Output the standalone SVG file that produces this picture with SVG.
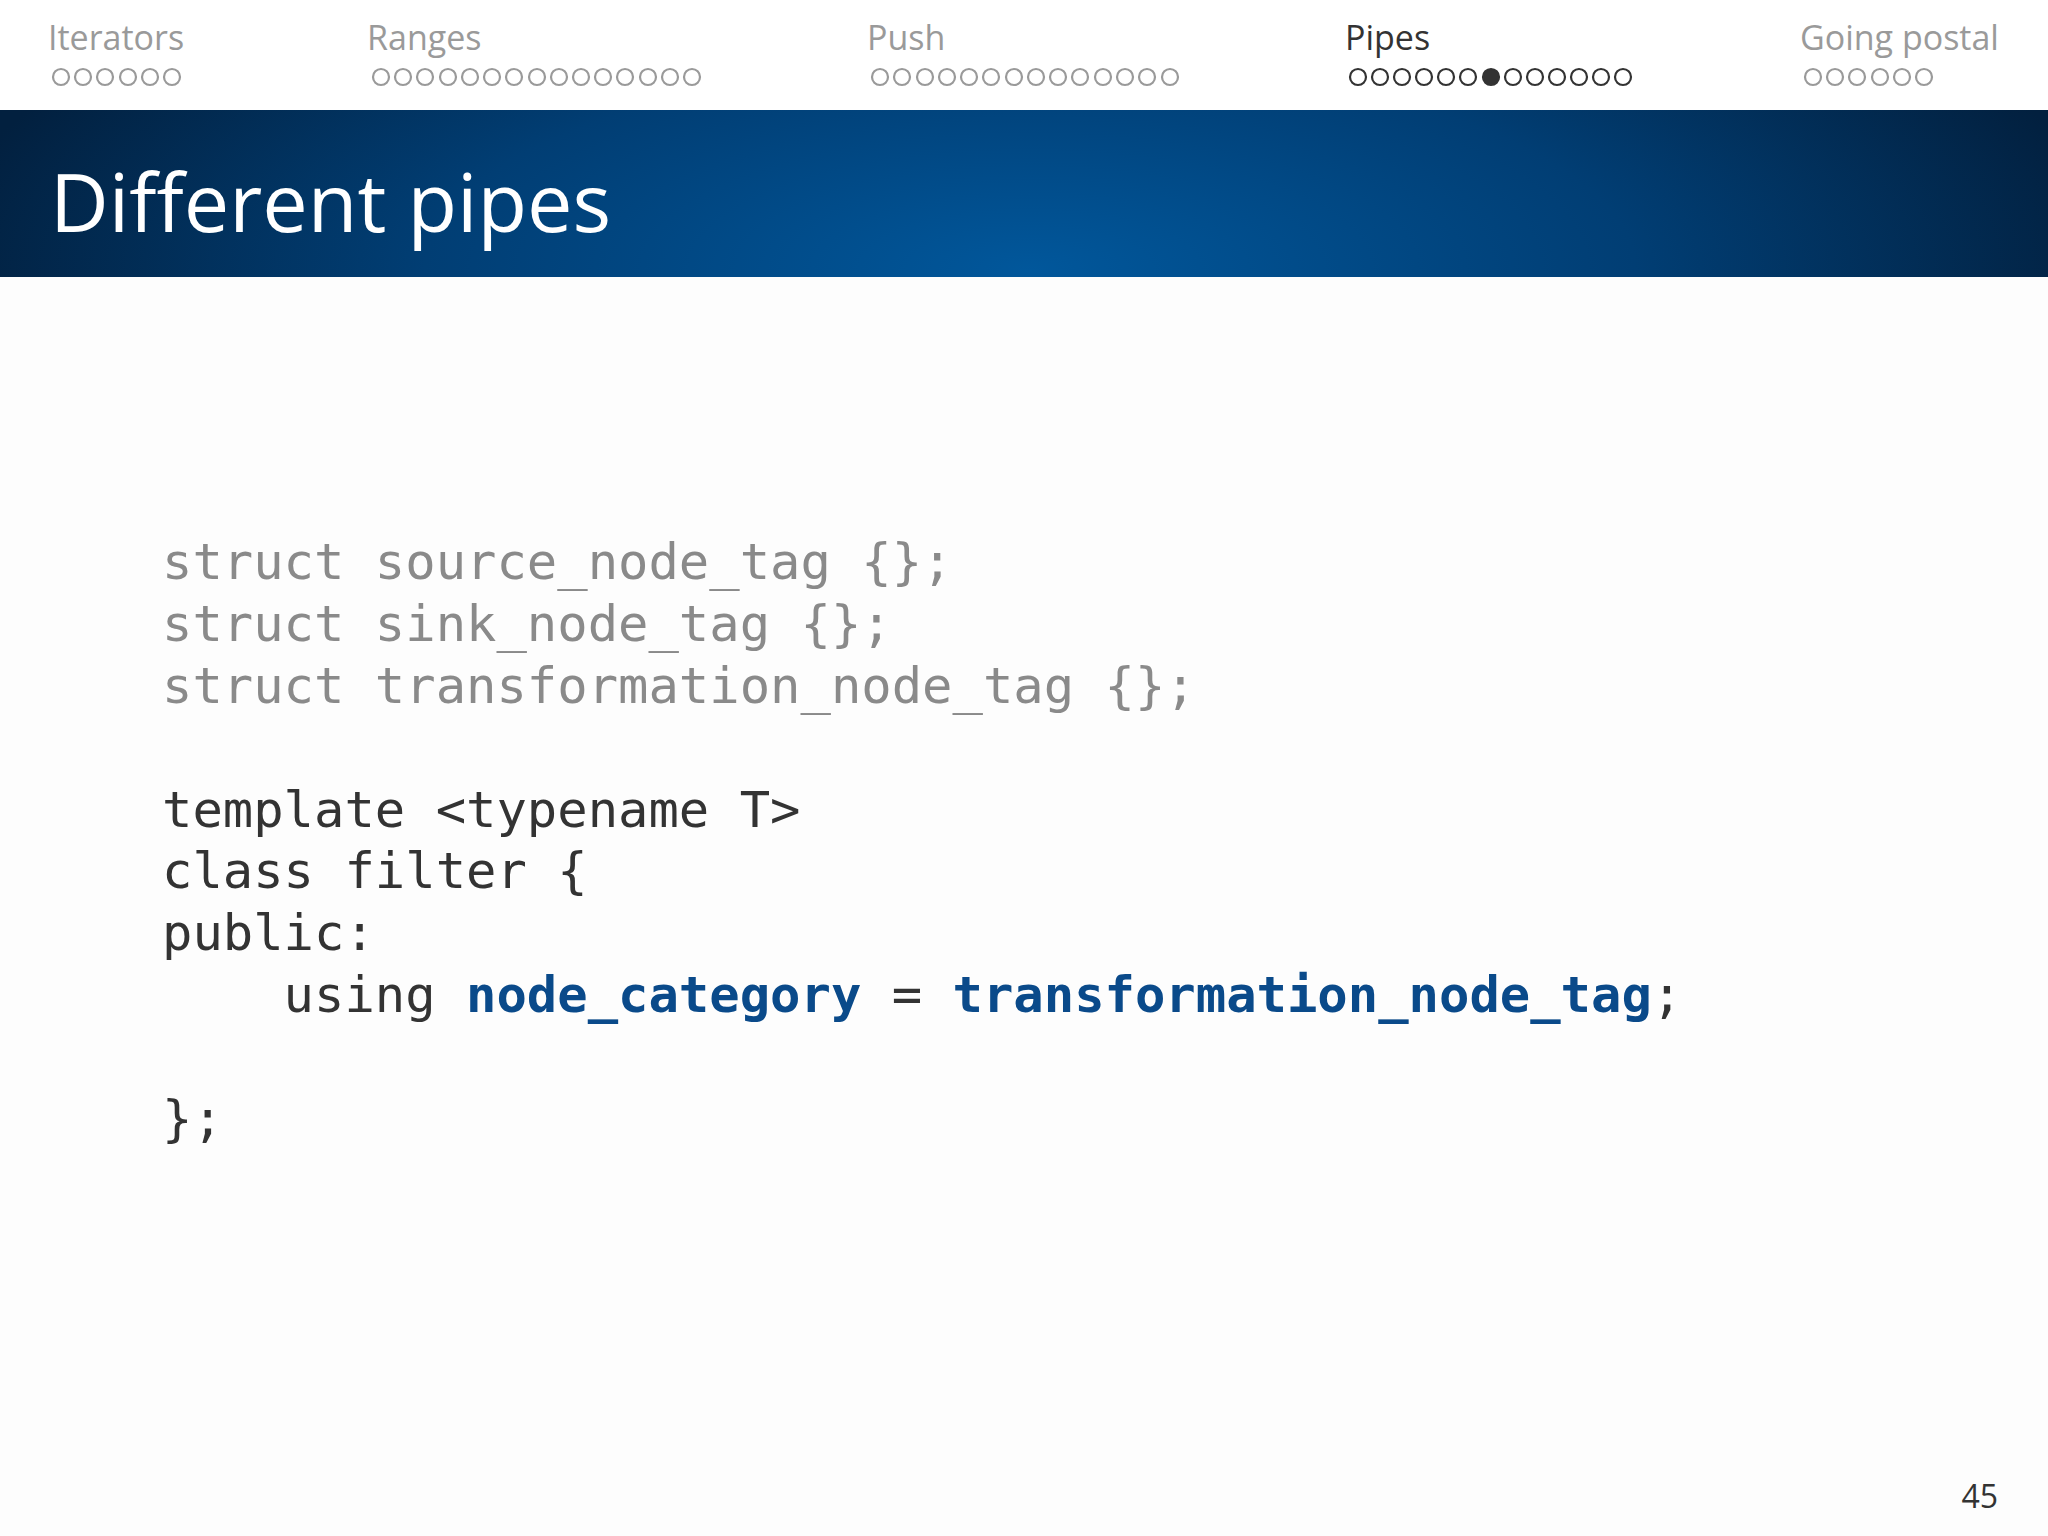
<svg xmlns="http://www.w3.org/2000/svg" width="2048" height="1536" viewBox="0 0 2048 1536">
<defs>
<radialGradient id="bg" cx="1030" cy="270" r="1100" gradientUnits="userSpaceOnUse" gradientTransform="translate(1030 270) scale(1 0.35) translate(-1030 -270)">
<stop offset="0" stop-color="#01579b"/><stop offset="0.55" stop-color="#013e74"/><stop offset="1" stop-color="#02203f"/>
</radialGradient>
<style>
.nav{font-family:"Open Sans","Noto Sans",sans-serif;font-size:34px;fill:#9a9a9a}
.cur{fill:#333}
.d circle{fill:none;stroke:#9a9a9a;stroke-width:2.2}
.dc circle{fill:none;stroke:#333;stroke-width:2.2}
.code{font-family:"DejaVu Sans Mono",monospace;font-size:50.5px;fill:#333;white-space:pre}
.g{fill:#8a8a8a}
.b{fill:#0a4a8a;font-weight:bold}
</style>
</defs>
<rect width="2048" height="1536" fill="#fdfdfd"/>
<rect width="2048" height="110" fill="#ffffff"/>
<g id="nav">
<text class="nav" x="48" y="50">Iterators</text>
<text class="nav" x="367" y="50">Ranges</text>
<text class="nav" x="867" y="50">Push</text>
<text class="nav cur" x="1345" y="50">Pipes</text>
<text class="nav" x="1800" y="50">Going postal</text>
<g class="d">
<circle cx="61" cy="77" r="8"/><circle cx="83" cy="77" r="8"/><circle cx="105" cy="77" r="8"/><circle cx="128" cy="77" r="8"/><circle cx="150" cy="77" r="8"/><circle cx="172" cy="77" r="8"/>
<circle cx="381" cy="77" r="8"/><circle cx="403" cy="77" r="8"/><circle cx="425" cy="77" r="8"/><circle cx="448" cy="77" r="8"/><circle cx="470" cy="77" r="8"/><circle cx="492" cy="77" r="8"/><circle cx="514" cy="77" r="8"/><circle cx="537" cy="77" r="8"/><circle cx="559" cy="77" r="8"/><circle cx="581" cy="77" r="8"/><circle cx="603" cy="77" r="8"/><circle cx="625" cy="77" r="8"/><circle cx="648" cy="77" r="8"/><circle cx="670" cy="77" r="8"/><circle cx="692" cy="77" r="8"/>
<circle cx="880" cy="77" r="8"/><circle cx="902" cy="77" r="8"/><circle cx="925" cy="77" r="8"/><circle cx="947" cy="77" r="8"/><circle cx="969" cy="77" r="8"/><circle cx="991" cy="77" r="8"/><circle cx="1014" cy="77" r="8"/><circle cx="1036" cy="77" r="8"/><circle cx="1058" cy="77" r="8"/><circle cx="1080" cy="77" r="8"/><circle cx="1103" cy="77" r="8"/><circle cx="1125" cy="77" r="8"/><circle cx="1147" cy="77" r="8"/><circle cx="1170" cy="77" r="8"/>
<circle cx="1813" cy="77" r="8"/><circle cx="1835" cy="77" r="8"/><circle cx="1857" cy="77" r="8"/><circle cx="1880" cy="77" r="8"/><circle cx="1902" cy="77" r="8"/><circle cx="1924" cy="77" r="8"/>
</g>
<g class="dc">
<circle cx="1358" cy="77" r="8"/><circle cx="1380" cy="77" r="8"/><circle cx="1402" cy="77" r="8"/><circle cx="1424" cy="77" r="8"/><circle cx="1446" cy="77" r="8"/><circle cx="1468" cy="77" r="8"/><circle cx="1491" cy="77" r="8" fill="#333" style="fill:#333"/><circle cx="1513" cy="77" r="8"/><circle cx="1535" cy="77" r="8"/><circle cx="1557" cy="77" r="8"/><circle cx="1579" cy="77" r="8"/><circle cx="1601" cy="77" r="8"/><circle cx="1623" cy="77" r="8"/>
</g>
</g>
<g id="banner">
<rect x="0" y="110" width="2048" height="167" fill="url(#bg)"/>
<text x="50" y="232" font-family="'Open Sans','Noto Sans',sans-serif" font-size="81" fill="#ffffff">Different pipes</text>
</g>
<g id="code" class="code">
<text class="code g" x="162" y="579">struct source_node_tag {};</text>
<text class="code g" x="162" y="641">struct sink_node_tag {};</text>
<text class="code g" x="162" y="703">struct transformation_node_tag {};</text>
<text class="code" x="162" y="827">template &lt;typename T&gt;</text>
<text class="code" x="162" y="888">class filter {</text>
<text class="code" x="162" y="950">public:</text>
<text class="code" x="162" y="1012">    using <tspan class="b">node_category</tspan> = <tspan class="b">transformation_node_tag</tspan>;</text>
<text class="code" x="162" y="1136">};</text>
</g>
<text x="1998" y="1508" text-anchor="end" font-family="'Open Sans','Noto Sans',sans-serif" font-size="32" fill="#333">45</text>
</svg>
